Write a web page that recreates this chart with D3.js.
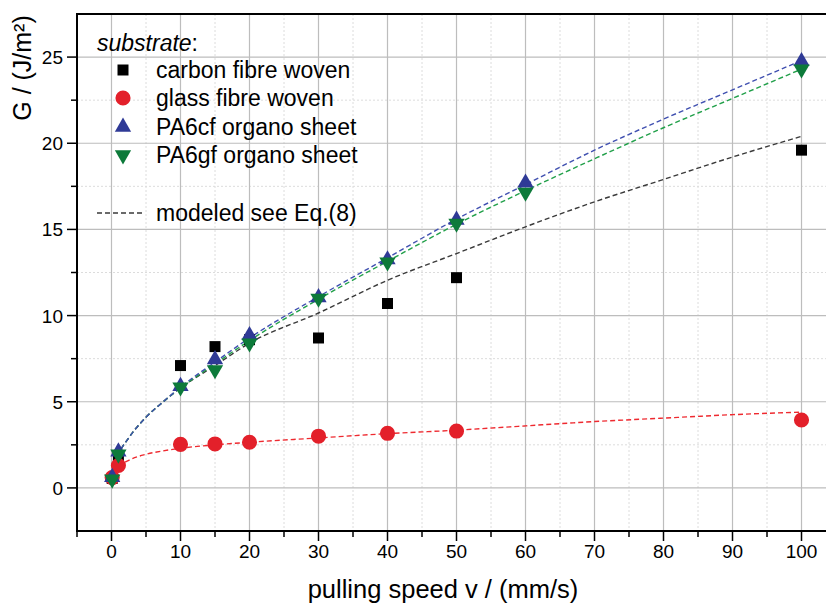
<!DOCTYPE html>
<html><head><meta charset="utf-8">
<script src="https://cdn.jsdelivr.net/npm/d3@7"></script>
<style>body{margin:0;background:#fff}svg{display:block;font-family:"Liberation Sans",Arial,sans-serif}</style>
</head><body><svg id="c" width="826" height="603"></svg>
<script>
// ---- data ----
const seriesNames = ["carbon fibre woven","glass fibre woven","PA6cf organo sheet","PA6gf organo sheet"];
const carbonX = [0.1, 1, 10, 15, 20, 30, 40, 50, 100];
const carbonG = [0.55, 1.7, 7.1, 8.2, 8.6, 8.7, 10.7, 12.2, 19.6];
const glassX = [0.1, 1, 10, 15, 20, 30, 40, 50, 100];
const glassG = [0.6, 1.3, 2.53, 2.55, 2.65, 3.0, 3.17, 3.3, 3.94];
const cfX = [0.1, 1, 10, 15, 20, 30, 40, 50, 60, 100];
const cfG = [0.62, 2.1, 5.9, 7.45, 8.85, 11.05, 13.25, 15.55, 17.7, 24.75];
const gfX = [0.1, 1, 10, 15, 20, 30, 40, 50, 60, 100];
const gfG = [0.5, 1.95, 5.85, 6.85, 8.4, 11.0, 13.1, 15.35, 17.15, 24.3];
// modeled curves
const modelX = [0, 0.5, 1, 2.5, 5, 7.5, 10, 15, 20, 30, 40, 50, 60, 70, 80, 90, 100];
const modelCarbon = [0.5, 1.3, 1.9, 2.9, 4.1, 5.0, 5.8, 7.1, 8.4, 10.15, 12.05, 13.6, 15.15, 16.6, 17.9, 19.2, 20.4];
const modelGlass  = [0.4, 0.9, 1.2, 1.6, 1.95, 2.15, 2.3, 2.5, 2.65, 2.9, 3.15, 3.35, 3.6, 3.85, 4.05, 4.25, 4.4];
const modelCf     = [0.5, 1.3, 1.9, 2.9, 4.1, 5.0, 5.85, 7.3, 8.7, 11.1, 13.35, 15.6, 17.6, 19.6, 21.4, 23.1, 24.8];
const modelGf     = [0.5, 1.3, 1.9, 2.9, 4.1, 5.0, 5.8, 7.2, 8.55, 10.95, 13.15, 15.3, 17.25, 19.1, 20.9, 22.6, 24.3];
const xTicks = [0,10,20,30,40,50,60,70,80,90,100];
const yTicks = [0,5,10,15,20,25];
const xTitle = "pulling speed v / (mm/s)";
const yTitle = "G / (J/m²)";
const legendTitle = "substrate";
const modelLabel = "modeled see Eq.(8)";

// ---- chart ----
const svg = d3.select("#c");
const L = 77, R = 826, T = 14, B = 531;
const x = d3.scaleLinear().domain([-5, 103.55]).range([L, R]);
const y = d3.scaleLinear().domain([-2.5, 27.5]).range([B, T]);

const colors = {black:"#000000", red:"#e3202a", blue:"#2f3a96", green:"#0d7a3a"};
const lineColors = {black:"#3a3a3a", red:"#ee2a30", blue:"#4050b0", green:"#22a04a"};

const g = svg.append("g");
// minor grid
const xMinor = d3.range(5, 104, 10);
const yMinor = d3.range(2.5, 27.5, 5);
g.selectAll(".xm").data(xMinor).join("line")
  .attr("x1", d=>x(d)).attr("x2", d=>x(d)).attr("y1", T).attr("y2", B)
  .attr("stroke", "#dcdcdc").attr("stroke-width", 1).attr("stroke-dasharray", "2,2");
g.selectAll(".ym").data(yMinor).join("line")
  .attr("x1", L).attr("x2", R).attr("y1", d=>y(d)).attr("y2", d=>y(d))
  .attr("stroke", "#dcdcdc").attr("stroke-width", 1).attr("stroke-dasharray", "2,2");
// major grid
g.selectAll(".xg").data(xTicks).join("line")
  .attr("x1", d=>x(d)).attr("x2", d=>x(d)).attr("y1", T).attr("y2", B)
  .attr("stroke", "#bdbdbd").attr("stroke-width", 1.2);
g.selectAll(".yg").data(yTicks).join("line")
  .attr("x1", L).attr("x2", R).attr("y1", d=>y(d)).attr("y2", d=>y(d))
  .attr("stroke", "#bdbdbd").attr("stroke-width", 1.2);

// model lines
const line = d3.line().x(d=>x(d[0])).y(d=>y(d[1])).curve(d3.curveMonotoneX);
const models = [[modelGlass,"red"],[modelCarbon,"black"],[modelGf,"green"],[modelCf,"blue"]];
models.forEach(([vals,c]) => {
  svg.append("path").datum(modelX.map((v,i)=>[v, vals[i]]))
    .attr("d", line).attr("fill","none").attr("stroke", lineColors[c])
    .attr("stroke-width", 1.4).attr("stroke-dasharray", "5,3");
});

// markers
const sym = {
  square: d3.symbol().type(d3.symbolSquare).size(121)(),
  circle: d3.symbol().type(d3.symbolCircle).size(180)(),
  tri: d3.symbol().type(d3.symbolTriangle).size(115)()
};
function drawPts(xs, gs, shape, color, rot) {
  svg.append("g").selectAll("path").data(xs.map((v,i)=>[v, gs[i]])).join("path")
    .attr("d", sym[shape])
    .attr("transform", d=>`translate(${x(d[0])},${y(d[1])})${rot?" rotate(180)":""}`)
    .attr("fill", color);
}
drawPts(carbonX, carbonG, "square", colors.black);
drawPts(glassX, glassG, "circle", colors.red);
drawPts(cfX, cfG, "tri", colors.blue);
drawPts(gfX, gfG, "tri", colors.green, true);

// axes
const ax = svg.append("g").attr("stroke", "#000");
ax.append("line").attr("x1", L).attr("x2", L).attr("y1", T-1).attr("y2", B+1).attr("stroke-width", 2);
ax.append("line").attr("x1", L-1).attr("x2", R).attr("y1", B).attr("y2", B).attr("stroke-width", 2);
ax.append("line").attr("x1", L-1).attr("x2", R).attr("y1", T).attr("y2", T).attr("stroke-width", 2);
// y ticks
ax.selectAll(".yt").data(yTicks).join("line").attr("x1", L-10).attr("x2", L).attr("y1", d=>y(d)).attr("y2", d=>y(d)).attr("stroke-width", 1.5);
ax.selectAll(".ytm").data(yMinor).join("line").attr("x1", L-6).attr("x2", L).attr("y1", d=>y(d)).attr("y2", d=>y(d)).attr("stroke-width", 1.5);
// x ticks
ax.selectAll(".xt").data(xTicks).join("line").attr("x1", d=>x(d)).attr("x2", d=>x(d)).attr("y1", B).attr("y2", B+10).attr("stroke-width", 1.5);
ax.selectAll(".xtm").data([-5].concat(xMinor)).join("line").attr("x1", d=>x(d)).attr("x2", d=>x(d)).attr("y1", B).attr("y2", B+6).attr("stroke-width", 1.5);

svg.append("g").selectAll("text").data(yTicks).join("text")
  .attr("x", L-14).attr("y", d=>y(d)+7).attr("text-anchor","end")
  .attr("font-size", 19).text(d=>d);
svg.append("g").selectAll("text").data(xTicks).join("text")
  .attr("x", d=>x(d)).attr("y", 558).attr("text-anchor","middle")
  .attr("font-size", 19).text(d=>d);

svg.append("text").attr("x", 443).attr("y", 598).attr("text-anchor","middle")
  .attr("font-size", 25.5).text(xTitle);
svg.append("text").attr("transform", "translate(31,68) rotate(-90)").attr("text-anchor","middle")
  .attr("font-size", 25).text(yTitle);

// legend
const lg = svg.append("g");
const lt = lg.append("text").attr("x", 97).attr("y", 51).attr("font-size", 23);
lt.append("tspan").attr("font-style","italic").text(legendTitle);
lt.append("tspan").text(":");
const legItems = [
  {shape:"square", color:colors.black, rot:false, cy:70},
  {shape:"circle", color:colors.red, rot:false, cy:98},
  {shape:"tri", color:colors.blue, rot:false, cy:127},
  {shape:"tri", color:colors.green, rot:true, cy:155}
];
legItems.forEach((it,i) => {
  lg.append("path").attr("d", sym[it.shape])
    .attr("transform", `translate(123,${it.cy})${it.rot?" rotate(180)":""}`).attr("fill", it.color);
  lg.append("text").attr("x", 156).attr("y", it.cy+8).attr("font-size", 23).text(seriesNames[i]);
});
lg.append("line").attr("x1", 97).attr("x2", 144).attr("y1", 213).attr("y2", 213)
  .attr("stroke", "#3a3a3a").attr("stroke-width", 1.4).attr("stroke-dasharray", "5,3");
lg.append("text").attr("x", 156).attr("y", 221).attr("font-size", 23).text(modelLabel);
</script></body></html>
